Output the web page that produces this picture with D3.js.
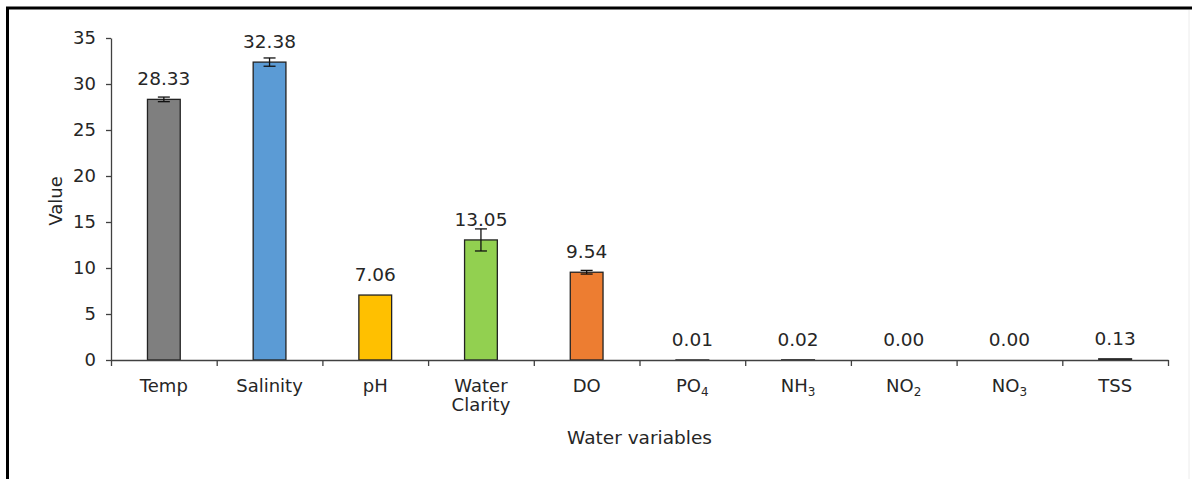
<!DOCTYPE html>
<html>
<head>
<meta charset="utf-8">
<script src="https://cdnjs.cloudflare.com/ajax/libs/d3/7.8.5/d3.min.js"></script>
<style>
  html, body { margin: 0; padding: 0; background: #fff; }
  svg { display: block; }
  text { font-family: "DejaVu Sans", Verdana, sans-serif; fill: #262626; }
</style>
</head>
<body>
<svg id="chart" width="1192" height="479"></svg>
<script>
// Water quality variables: means with standard-error bars
const categories = ["Temp", "Salinity", "pH", "Water Clarity", "DO", "PO4", "NH3", "NO2", "NO3", "TSS"];
// label parts: [main text, subscript] per line
const labelLines = [
  [["Temp", ""]],
  [["Salinity", ""]],
  [["pH", ""]],
  [["Water", ""], ["Clarity", ""]],
  [["DO", ""]],
  [["PO", "4"]],
  [["NH", "3"]],
  [["NO", "2"]],
  [["NO", "3"]],
  [["TSS", ""]]
];
const values = [28.33, 32.38, 7.06, 13.05, 9.54, 0.01, 0.02, 0.00, 0.00, 0.13];
const errors = [0.25, 0.45, 0, 1.2, 0.2, 0, 0, 0, 0, 0];
const colors = ["#7f7f7f", "#5b9bd5", "#ffc000", "#92d050", "#ed7d31", "#ffffff", "#ffffff", "#ffffff", "#ffffff", "#ffffff"];
const yTicks = [0, 5, 10, 15, 20, 25, 30, 35];

const svg = d3.select("#chart");
const W = 1192, H = 479;

// frame
svg.append("line").attr("x1", 6).attr("x2", W).attr("y1", 8).attr("y2", 8)
  .attr("stroke", "#000").attr("stroke-width", 3);
svg.append("line").attr("x1", 7.5).attr("x2", 7.5).attr("y1", 7).attr("y2", H)
  .attr("stroke", "#000").attr("stroke-width", 3);
svg.append("line").attr("x1", 1189).attr("x2", 1189).attr("y1", 10).attr("y2", H)
  .attr("stroke", "#ececec").attr("stroke-width", 1);

const plotL = 111, plotR = 1168, plotT = 38, plotB = 360;

const x = d3.scaleBand().domain(categories).range([plotL, plotR]).paddingInner(0.69).paddingOuter(0.345);
const xEdge = d3.scaleLinear().domain([0, categories.length]).range([plotL, plotR]);
const y = d3.scaleLinear().domain([0, 35]).range([plotB, plotT]);

// y axis
const yAxis = svg.append("g").attr("transform", `translate(${plotL},0)`)
  .call(d3.axisLeft(y).tickValues(yTicks).tickSize(5).tickPadding(10).tickSizeOuter(0));
yAxis.select(".domain").attr("stroke", "#404040").attr("stroke-width", 1.3);
yAxis.selectAll(".tick line").attr("stroke", "#404040").attr("stroke-width", 1.3);
yAxis.selectAll(".tick text").style("font-size", "18px").attr("fill", "#262626")
  .style("font-family", "'DejaVu Sans', Verdana, sans-serif");

// bars
svg.append("g").selectAll("rect").data(values).join("rect")
  .attr("x", (d, i) => x(categories[i]))
  .attr("y", d => y(d))
  .attr("width", x.bandwidth())
  .attr("height", d => y(0) - y(d))
  .attr("fill", (d, i) => colors[i])
  .attr("stroke", "#222")
  .attr("stroke-width", 1.3);

// x axis with ticks at category boundaries
const xAxis = svg.append("g").attr("transform", `translate(0,${plotB})`)
  .call(d3.axisBottom(xEdge).tickValues(d3.range(categories.length + 1)).tickFormat("").tickSize(6).tickSizeOuter(0));
xAxis.select(".domain").attr("stroke", "#404040").attr("stroke-width", 1.3);
xAxis.selectAll(".tick line").attr("stroke", "#404040").attr("stroke-width", 1.3);

// error bars
const eb = svg.append("g").attr("stroke", "#111").attr("stroke-width", 1.3);
values.forEach((v, i) => {
  if (!errors[i]) return;
  const cx = x(categories[i]) + x.bandwidth() / 2;
  const y1 = y(v + errors[i]), y2 = y(v - errors[i]);
  eb.append("line").attr("x1", cx).attr("x2", cx).attr("y1", y1).attr("y2", y2);
  eb.append("line").attr("x1", cx - 6).attr("x2", cx + 6).attr("y1", y1).attr("y2", y1);
  eb.append("line").attr("x1", cx - 6).attr("x2", cx + 6).attr("y1", y2).attr("y2", y2);
});

// value labels
svg.append("g").selectAll("text").data(values).join("text")
  .attr("x", (d, i) => x(categories[i]) + x.bandwidth() / 2)
  .attr("y", d => y(d) - 14)
  .attr("text-anchor", "middle")
  .style("font-size", "18.5px")
  .text(d => d.toFixed(2));

// category labels
const catG = svg.append("g");
labelLines.forEach((lines, i) => {
  const cx = x(categories[i]) + x.bandwidth() / 2;
  lines.forEach((parts, j) => {
    const t = catG.append("text")
      .attr("x", cx)
      .attr("y", 392 + j * 19)
      .attr("text-anchor", "middle")
      .style("font-size", "18px");
    t.append("tspan").text(parts[0]);
    if (parts[1]) {
      t.append("tspan").attr("dy", 4).style("font-size", "12px").text(parts[1]);
    }
  });
});

// axis titles
svg.append("text")
  .attr("x", (plotL + plotR) / 2)
  .attr("y", 443.5)
  .attr("text-anchor", "middle")
  .style("font-size", "18.5px")
  .text("Water variables");

svg.append("text")
  .attr("transform", `translate(62,201) rotate(-90)`)
  .attr("text-anchor", "middle")
  .style("font-size", "18px")
  .text("Value");
</script>
</body>
</html>
